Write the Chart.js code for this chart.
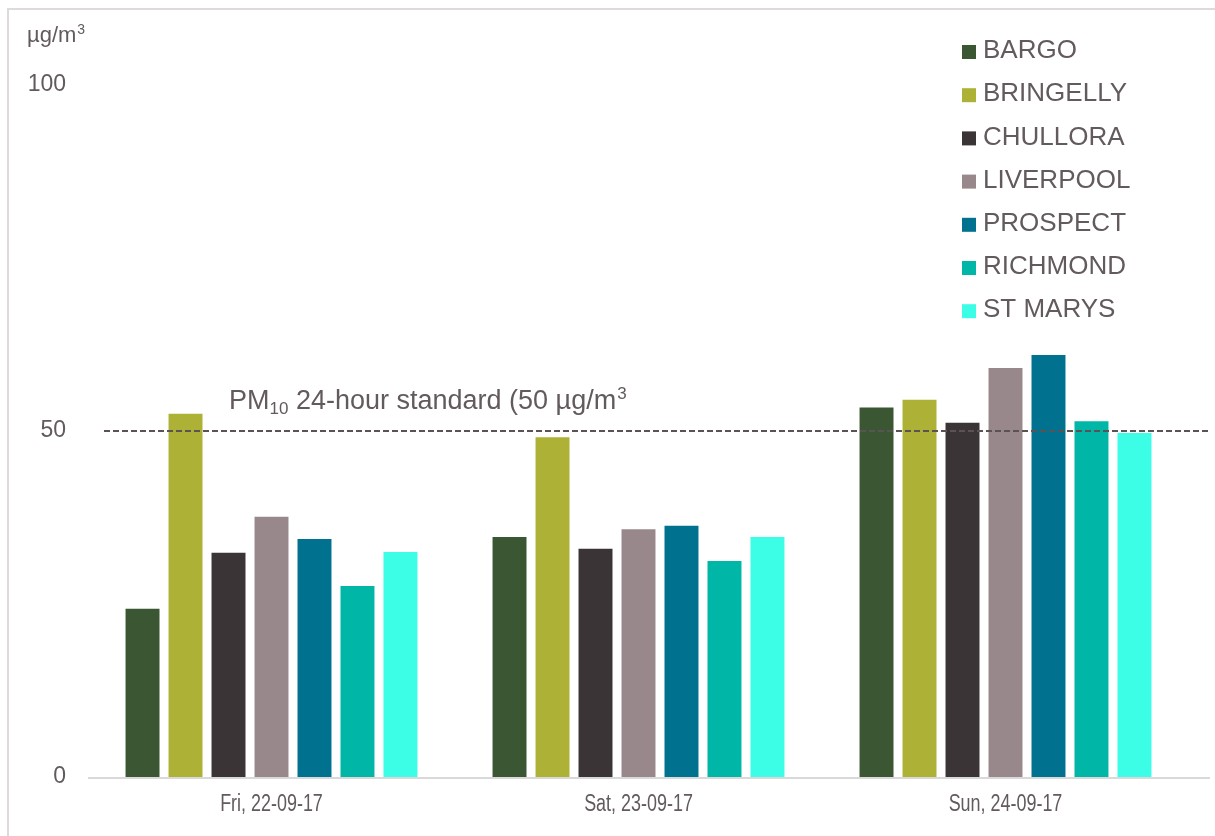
<!DOCTYPE html>
<html>
<head>
<meta charset="utf-8">
<script src="https://cdn.jsdelivr.net/npm/chart.js@4.4.1/dist/chart.umd.min.js"></script>
<style>
  html, body { margin: 0; padding: 0; background: #fff; }
  #wrap { position: relative; width: 1215px; height: 836px; overflow: hidden; }
  #frame { position: absolute; left: 7px; top: 8px; right: -4px; bottom: -4px;
           border-left: 2px solid #dedada; border-top: 2px solid #dedada; }
  canvas { position: absolute; left: 0; top: 0; }
</style>
</head>
<body>
<div id="wrap">
  <div id="frame"></div>
  <canvas id="c" width="1215" height="836"></canvas>
</div>
<script>
// Daily PM10 averages (µg/m³) at Sydney west/south-west stations
const days = ['Fri, 22-09-17', 'Sat, 23-09-17', 'Sun, 24-09-17'];
const stations = ['BARGO', 'BRINGELLY', 'CHULLORA', 'LIVERPOOL', 'PROSPECT', 'RICHMOND', 'ST MARYS'];
const bargo     = [24.3, 34.7, 53.4];
const bringelly = [52.5, 49.1, 54.5];
const chullora  = [32.4, 33.0, 51.2];
const liverpool = [37.6, 35.8, 59.1];
const prospect  = [34.4, 36.3, 61.0];
const richmond  = [27.6, 31.2, 51.4];
const stMarys   = [32.5, 34.7, 49.7];
const yTicks = [0, 50, 100];
const standardValue = 50;

const stationValues = [bargo, bringelly, chullora, liverpool, prospect, richmond, stMarys];
const stationColors = ['#3b5632', '#adb236', '#3a3436', '#98888c', '#00718f', '#00b6a6', '#3cfde6'];

const textColor = '#625a5d';
const FONT = '"Liberation Sans", Arial, sans-serif';

// Axis line, condensed day labels, standard line with its label, unit label and legend
const decor = {
  id: 'decor',
  afterDatasetsDraw(chart) {
    const { ctx, chartArea, scales: { x, y } } = chart;
    ctx.save();

    const y0 = y.getPixelForValue(0);
    ctx.strokeStyle = '#d9d9d9';
    ctx.lineWidth = 2;
    ctx.beginPath();
    ctx.moveTo(chartArea.left, y0 + 1);
    ctx.lineTo(1210, y0 + 1);
    ctx.stroke();

    // day labels, set in a condensed face
    ctx.fillStyle = textColor;
    ctx.font = '23px ' + FONT;
    ctx.textAlign = 'center';
    ctx.textBaseline = 'middle';
    chart.data.labels.forEach((lab, i) => {
      const px = x.getPixelForValue(i);
      ctx.save();
      ctx.translate(px, y0 + 28);
      ctx.scale(0.78, 1);
      ctx.fillText(lab, 0, 0);
      ctx.restore();
    });

    const ys = y.getPixelForValue(standardValue);
    ctx.setLineDash([6, 3]);
    ctx.strokeStyle = '#5a5254';
    ctx.lineWidth = 1.8;
    ctx.beginPath();
    ctx.moveTo(104, ys);
    ctx.lineTo(1210, ys);
    ctx.stroke();
    ctx.setLineDash([]);

    // "PM10 24-hour standard (50 µg/m3"
    ctx.textBaseline = 'alphabetic';
    ctx.textAlign = 'left';
    let tx = 229;
    const by = ys - 22;
    ctx.font = '27px ' + FONT;
    ctx.fillText('PM', tx, by); tx += ctx.measureText('PM').width;
    ctx.font = '17px ' + FONT;
    ctx.fillText('10', tx, by + 5); tx += ctx.measureText('10').width;
    ctx.font = '27px ' + FONT;
    const mid = ' 24-hour standard (' + standardValue + ' µg/m';
    ctx.fillText(mid, tx, by); tx += ctx.measureText(mid).width;
    ctx.font = '17px ' + FONT;
    ctx.fillText('3', tx + 1, by - 10);

    // unit label
    ctx.font = '22px ' + FONT;
    ctx.fillText('µg/m', 27, 42);
    const uw = ctx.measureText('µg/m').width;
    ctx.font = '14px ' + FONT;
    ctx.fillText('3', 27 + uw + 1, 34);

    // legend
    ctx.textBaseline = 'middle';
    ctx.font = '26px ' + FONT;
    chart.data.datasets.forEach((ds, i) => {
      const cy = 52 + i * 43.2;
      ctx.fillStyle = ds.backgroundColor;
      ctx.fillRect(962, cy - 7, 14, 14);
      ctx.fillStyle = textColor;
      ctx.fillText(ds.label, 983, cy - 1);
    });
    ctx.restore();
  }
};

new Chart(document.getElementById('c'), {
  type: 'bar',
  data: {
    labels: days,
    datasets: stations.map((name, i) => ({
      label: name,
      data: stationValues[i],
      backgroundColor: stationColors[i],
      borderWidth: 0,
      categoryPercentage: 0.82,
      barPercentage: 0.79
    }))
  },
  options: {
    responsive: false,
    animation: false,
    devicePixelRatio: 1,
    layout: { padding: { top: 85, right: 26, bottom: 0, left: 0 } },
    plugins: { legend: { display: false }, tooltip: { enabled: false } },
    scales: {
      x: {
        grid: { display: false },
        border: { display: false },
        ticks: { display: false },
        afterFit(s) { s.height = 59; }
      },
      y: {
        min: 0,
        max: 100,
        grid: { display: false },
        border: { display: false },
        afterBuildTicks(s) { s.ticks = yTicks.map(v => ({ value: v })); },
        ticks: { color: textColor, font: { family: FONT, size: 23 }, padding: 14 },
        afterFit(s) { s.width = 88; }
      }
    }
  },
  plugins: [decor]
});
</script>
</body>
</html>
